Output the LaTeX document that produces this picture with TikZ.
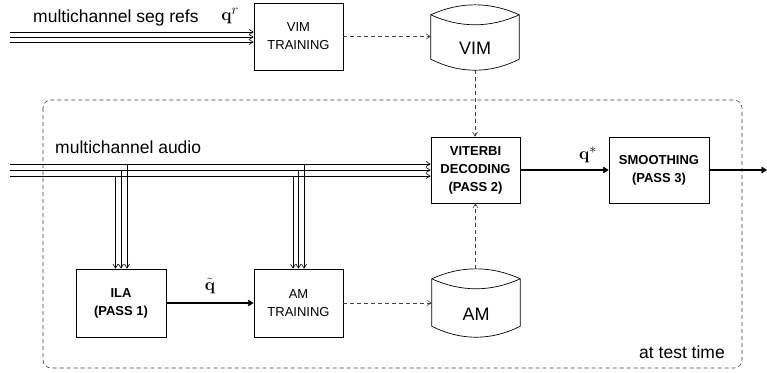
\documentclass[tikz,border=0pt]{standalone}
\usepackage[no-math]{fontspec}
\setmainfont{Liberation Sans}
\usetikzlibrary{arrows.meta}
\newcommand\cylshape[1]{%
  \draw[line width=0.7pt] ([yshift=-10pt]#1.north west)
    .. controls ([shift={(29pt,3.3pt)}]#1.north west) and ([shift={(-29pt,3.3pt)}]#1.north east) .. ([yshift=-10pt]#1.north east)
    -- ([yshift=11pt]#1.south east)
    .. controls ([shift={(-29pt,-3.7pt)}]#1.south east) and ([shift={(29pt,-3.7pt)}]#1.south west) .. ([yshift=11pt]#1.south west)
    -- cycle;
  \draw[line width=0.7pt] ([yshift=-10pt]#1.north west)
    .. controls ([shift={(29pt,-23.3pt)}]#1.north west) and ([shift={(-29pt,-23.3pt)}]#1.north east) .. ([yshift=-10pt]#1.north east);
}
\begin{document}
\begin{tikzpicture}[x=1pt,y=-1pt,
  tip/.style={-{Straight Barb[length=4pt,width=5pt]}},
  box/.style={draw,line width=0.7pt,align=center,inner sep=0pt,font=\fontsize{13}{18}\selectfont},
  bbox/.style={box,font=\fontsize{13}{18}\selectfont\bfseries},
  cyl/.style={draw=none,inner sep=0pt,minimum width=88pt,font=\fontsize{18}{20}\selectfont},
  thin/.style={line width=0.6pt},
  thick2/.style={line width=1.6pt},
  dsh/.style={line width=0.6pt,dash pattern=on 4pt off 3pt,draw=black!75},
  big/.style={font=\fontsize{17.5}{20}\selectfont,inner sep=0pt},
  lab/.style={font=\fontsize{19}{20}\selectfont,inner sep=0pt}]
\useasboundingbox (0,0) rectangle (767,372);

% frame
\draw[dsh,rounded corners=8pt] (43,100) rectangle (742,368);

% boxes
\node[box,minimum width=89pt,minimum height=67pt] (vimtr) at (298.5,36.5) {VIM\\TRAINING};
\node[bbox,minimum width=89pt,minimum height=66pt] (vit) at (475.5,170) {VITERBI\\DECODING\\(PASS 2)};
\node[bbox,minimum width=100pt,minimum height=66pt] (smo) at (659,170) {SMOOTHING\\(PASS 3)};
\node[bbox,minimum width=90pt,minimum height=68pt] (ila) at (121,303) {ILA\\(PASS 1)};
\node[box,minimum width=89pt,minimum height=68pt] (amtr) at (298.5,303) {AM\\TRAINING};

% cylinders
\node[cyl,minimum height=65pt] (vim) at (475,37.5) {\raisebox{-17pt}[0pt][0pt]{VIM}};
\cylshape{vim}
\node[cyl,minimum height=68pt] (am) at (476,303) {\raisebox{-17.5pt}[0pt][0pt]{AM}};
\cylshape{am}

% texts
\node[big,anchor=base west] (t1) at (33,22) {multichannel seg refs};
\node[big,anchor=base west] (t2) at (55,153) {multichannel audio};
\node[big,anchor=base east] (t3) at (725,358) {at test time};
\node[lab] (qr) at (230,16) {$\mathbf{q}^{r}$};
\node[lab] (qs) at (588,155) {$\mathbf{q}^{*}$};
\node[lab] (qt) at (210,286) {$\tilde{\mathbf{q}}$};

% seg refs bundle
\coordinate (s1) at (10,32);
\coordinate (s2) at (10,37);
\coordinate (s3) at (10,42);
\foreach \s in {s1,s2,s3} \draw[thin,tip] (\s) -- (\s -| vimtr.west);

% audio bundle
\coordinate (a1) at (10,164);
\coordinate (a2) at (10,170);
\coordinate (a3) at (10,176);
\foreach \s in {a1,a2,a3} \draw[thin,tip] (\s) -- (\s -| vit.west);

% branches to ILA
\coordinate (i1) at (127,164);
\coordinate (i2) at (121,170);
\coordinate (i3) at (115.5,176);
\foreach \s in {i1,i2,i3} \draw[thin,tip] (\s) -- (\s |- ila.north);
% branches to AM training
\coordinate (m1) at (304,164);
\coordinate (m2) at (298.5,170);
\coordinate (m3) at (293,176);
\foreach \s in {m1,m2,m3} \draw[thin,tip] (\s) -- (\s |- amtr.north);

% dashed connectors
\draw[dsh,tip] (vimtr.east) -- (vimtr.east -| vim.west);
\draw[dsh,tip] (vim.south) -- (vim.south |- vit.north);
\draw[dsh,tip] (amtr.east) -- (amtr.east -| am.west);
\draw[dsh,tip] (am.north -| vit.south) -- (vit.south);

% thick connectors
\draw[thick2,tip] (vit.east) -- (smo.west);
\coordinate (out) at (767,170);
\draw[thick2,tip] (smo.east) -- (out);
\draw[thick2,tip] (ila.east) -- (amtr.west);
\end{tikzpicture}
\end{document}
